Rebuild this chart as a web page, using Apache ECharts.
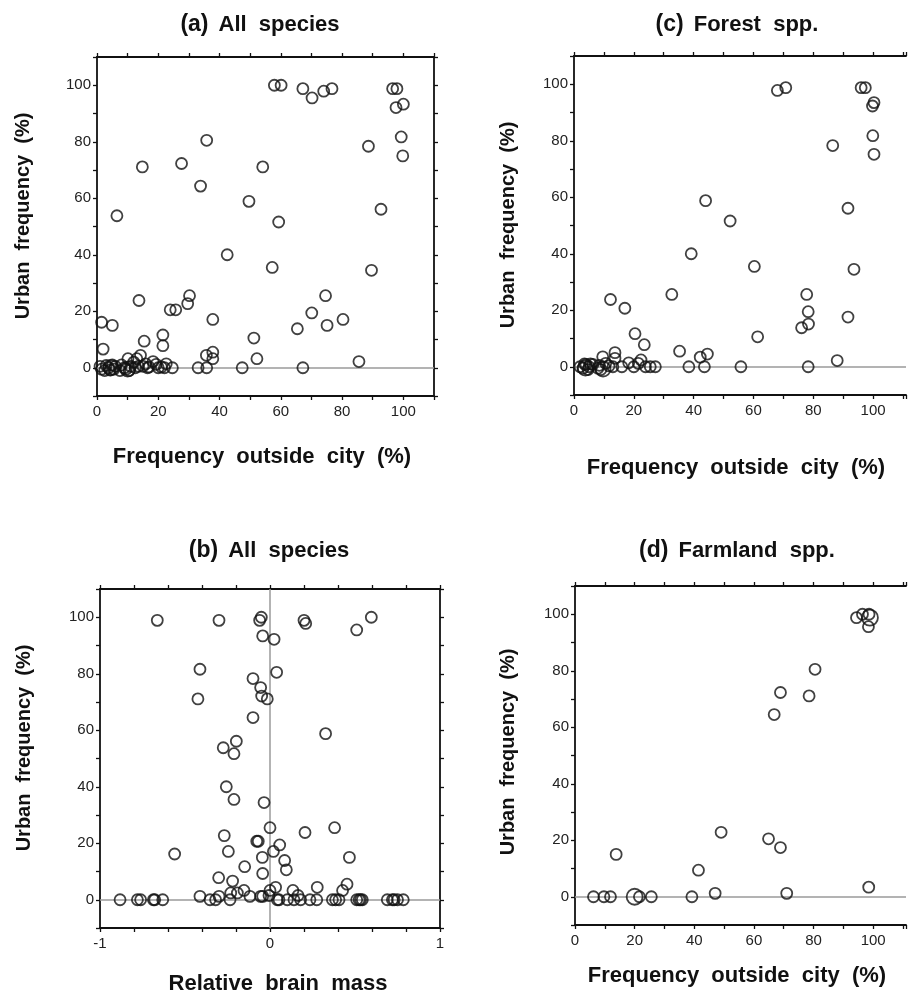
<!DOCTYPE html>
<html>
<head>
<meta charset="utf-8">
<script src="https://cdn.jsdelivr.net/npm/echarts@6/dist/echarts.min.js"></script>
<style>
  html, body { margin: 0; padding: 0; background: #fff; }
  #chart { width: 909px; height: 992px; }
</style>
</head>
<body>
<div id="chart"></div>
<script>
// (a) all species: frequency outside city vs urban frequency
var aPoints = [
  [57.9,100],[60.1,100],[67.2,98.8],[70.2,95.5],[74,97.9],[76.7,98.8],[96.5,98.8],[97.9,98.8],
  [97.6,92.1],[100,93.3],[99.3,81.7],[99.8,75],[88.6,78.4],[92.7,56.1],[89.6,34.5],[35.8,80.5],
  [14.8,71.1],[27.6,72.3],[33.8,64.3],[54.1,71.1],[49.6,58.9],[6.5,53.8],[59.3,51.6],[42.5,40],
  [57.2,35.5],[13.7,23.8],[30.2,25.5],[29.6,22.7],[23.9,20.5],[25.7,20.5],[1.5,16.1],[5,15],
  [37.8,17.1],[15.4,9.4],[21.5,11.6],[21.5,7.8],[2,6.6],[51.2,10.5],[52.2,3.2],[35.7,4.4],
  [37.8,5.5],[37.8,3.2],[74.6,25.5],[70.1,19.4],[65.4,13.8],[75.1,15],[80.3,17.1],[85.5,2.2],
  [67.2,0],[47.4,0],[33,0],[35.8,0],[24.6,0],
  [1,0.5],[1.5,-0.5],[2.5,-1],[3,0.8],[3.8,0],[4.3,-0.8],[5,1],[5.5,-0.5],[6,0.5],[7.5,-1],
  [8,1],[9,0],[9.5,-0.5],[10.1,3.2],[10.5,-1],[11,0.5],[12,2],[12.5,0],[13,3.2],[13.5,0.5],
  [14.2,4.4],[15,0.5],[15.9,1.4],[16.5,0],[17,0.3],[18.3,2.2],[19.3,1.2],[20,0],[21,0.3],
  [22.6,1.4],[22,0]
];
var aBig = [[4.5,0],[10,-0.5]];

// (c) forest species
var cPoints = [
  [68,97.8],[70.8,98.8],[96,98.8],[97.4,98.8],[100.3,93.5],[99.8,92.3],[99.9,81.8],[100.3,75.2],
  [86.5,78.3],[91.6,56.1],[93.6,34.5],[44,58.8],[52.2,51.6],[39.2,40],[60.3,35.5],[32.7,25.6],
  [12.2,23.8],[17,20.7],[20.4,11.7],[23.5,7.8],[35.3,5.5],[42.2,3.4],[44.6,4.5],[38.4,0],
  [43.6,0],[55.8,0],[61.4,10.6],[77.8,25.6],[78.3,19.5],[76.1,13.8],[78.4,15.1],[91.6,17.6],
  [88,2.2],[78.3,0],
  [9.6,3.5],[13.7,5],[13.7,3],[18.3,1.4],[22.4,2.4],[21.5,1.2],[20,0],[16,0],[13,0],[23.9,0],
  [25.5,0],[27.2,0],[2,0],[3,-0.5],[4,0.8],[5,0],[4.7,-1],[6.3,0.8],[8,-0.5],[9,-1],
  [10.6,1.2],[11.7,0.3],[3.5,1],[5.5,1],[8.5,0.5]
];
var cBig = [[3.8,-0.5],[9.7,-0.8]];

// (b) all species: relative brain mass vs urban frequency
var bPoints = [
  [-0.663,98.9],[-0.3,98.9],[-0.051,100],[-0.061,98.9],[-0.043,93.4],[0.024,92.2],[0.2,98.9],
  [0.21,97.8],[0.51,95.5],[0.596,100],[-0.412,81.6],[0.039,80.5],[-0.1,78.3],[-0.055,75.1],
  [-0.049,72.1],[-0.016,71.1],[-0.424,71.1],[-0.1,64.5],[0.327,58.8],[-0.198,56.1],[-0.275,53.8],
  [-0.212,51.7],[-0.257,40],[-0.212,35.5],[-0.035,34.4],[0,25.5],[0.38,25.5],[0.206,23.8],
  [-0.269,22.7],[-0.078,20.7],[-0.069,20.7],[0.057,19.4],[-0.245,17.1],[0.02,17.1],[-0.561,16.2],
  [-0.045,15],[0.467,15],[0.086,13.9],[-0.149,11.7],[0.096,10.6],[-0.043,9.3],[-0.302,7.8],
  [-0.22,6.6],[0.453,5.5],[0.427,3.3],[0.278,4.4],[0.135,3.3],[0.033,4.4],[0,3.3],[-0.153,3.3],
  [-0.192,2.4],[-0.231,2.4],[-0.412,1.2],[-0.3,1.2],[-0.118,1.2],[-0.055,1.2],[-0.043,1.2],
  [-0.006,1.5],[0.165,1.5],
  [-0.882,0],[-0.78,0],[-0.761,0],[-0.686,0],[-0.678,0],[-0.631,0],[-0.353,0],[-0.32,0],
  [-0.235,0],[0.043,0],[0.053,0],[0.102,0],[0.141,0],[0.18,0],[0.235,0],[0.275,0],[0.367,0],
  [0.386,0],[0.406,0],[0.51,0],[0.524,0],[0.533,0],[0.543,0],[0.69,0],[0.72,0],[0.73,0],
  [0.75,0],[0.784,0]
];

// (d) farmland species
var dPoints = [
  [94.4,98.8],[96.4,100],[98.6,100],[98.4,95.6],[80.5,80.5],[68.9,72.3],[78.5,71.1],[66.8,64.5],
  [49,22.8],[64.9,20.5],[68.9,17.4],[13.8,15],[41.4,9.4],[47,1.2],[71,1.2],[98.5,3.4],
  [6.2,0],[9.7,0],[11.9,0],[21.6,0],[25.6,0],[39.2,0]
];
var dBig = [[20,0],[98.9,98.8]];

var freqTicks = [0, 20, 40, 60, 80, 100];
var brainTicks = [-1, 0, 1];
var urbanTicks = [0, 20, 40, 60, 80, 100];

var FONT = '"Liberation Sans", Arial, Helvetica, sans-serif';
var ink = '#111';

var chart = echarts.init(document.getElementById('chart'));

// right-hand panels run off the page edge, like the scan
var grids = [
  { left: 97, top: 57, width: 337, height: 339 },   // a
  { left: 574, top: 56, width: 340, height: 339 },  // c
  { left: 100, top: 589, width: 340, height: 339 }, // b
  { left: 575, top: 586, width: 342, height: 339 }  // d
];

function showIn(list) {
  return function (v) {
    var r = Math.round(v * 1000) / 1000;
    return list.indexOf(r) >= 0 ? String(r) : '';
  };
}

var xAxes = [], yAxes = [];
function addAxes(gi, xmin, xmax, xint, xticks, rightFrame) {
  var line = { show: true, onZero: false, lineStyle: { color: ink, width: 1.8 } };
  var tick = { show: true, inside: false, length: 4, lineStyle: { color: ink, width: 1.3 } };
  xAxes.push({
    type: 'value', gridIndex: gi, position: 'bottom', min: xmin, max: xmax, interval: xint,
    axisLine: line, axisTick: tick, splitLine: { show: false },
    axisLabel: { margin: 8, color: '#222', fontFamily: FONT, fontSize: 15, formatter: showIn(xticks),
      showMinLabel: true, showMaxLabel: true }
  });
  xAxes.push({
    type: 'value', gridIndex: gi, position: 'top', min: xmin, max: xmax, interval: xint,
    axisLine: line, axisTick: tick, splitLine: { show: false }, axisLabel: { show: false }
  });
  yAxes.push({
    type: 'value', gridIndex: gi, position: 'left', min: -10, max: 110, interval: 10,
    axisLine: line, axisTick: tick, splitLine: { show: false },
    axisLabel: { margin: 6, color: '#222', fontFamily: FONT, fontSize: 15, formatter: showIn(urbanTicks) }
  });
  yAxes.push({
    type: 'value', gridIndex: gi, position: 'right', min: -10, max: 110, interval: 10,
    show: rightFrame,
    axisLine: line, axisTick: tick, splitLine: { show: false }, axisLabel: { show: false }
  });
}
addAxes(0, 0, 110, 10, freqTicks, true);
addAxes(1, 0, 111, 10, freqTicks, false);
addAxes(2, -1, 1, 0.2, brainTicks, true);
addAxes(3, 0, 111, 10, freqTicks, false);

var circle = { color: 'rgba(0,0,0,0)', borderColor: ink, borderWidth: 1.8 };
var zeroLine = { color: '#9a9a9a', width: 1.5, type: 'solid' };

function pts(gi, data, size, marks) {
  var s = {
    type: 'scatter', xAxisIndex: gi * 2, yAxisIndex: gi * 2, data: data,
    symbol: 'circle', symbolSize: size, itemStyle: circle, z: 3, silent: true
  };
  if (marks) {
    s.markLine = { silent: true, symbol: 'none', label: { show: false }, lineStyle: zeroLine,
      data: marks, z: 1, animation: false };
  }
  return s;
}

var series = [
  pts(0, aPoints, 11, [{ yAxis: 0 }]), pts(0, aBig, 15),
  pts(1, cPoints, 11, [{ yAxis: 0 }]), pts(1, cBig, 15),
  pts(2, bPoints, 11, [{ yAxis: 0 }, { xAxis: 0 }]),
  pts(3, dPoints, 11, [{ yAxis: 0 }]), pts(3, dBig, 16)
];

function title(x, y, tag, txt) {
  return {
    type: 'text', x: x, y: y, silent: true,
    style: {
      text: '{p|' + tag + '}   {t|' + txt + '}', align: 'center', verticalAlign: 'middle',
      rich: {
        p: { fontFamily: FONT, fontWeight: 'bold', fontSize: 23, fill: ink },
        t: { fontFamily: FONT, fontWeight: 'bold', fontSize: 22, fill: ink }
      }
    }
  };
}
function label(x, y, txt, rot, size) {
  return {
    type: 'text', x: x, y: y, rotation: rot || 0, silent: true,
    style: { text: txt, align: 'center', verticalAlign: 'middle',
      fontFamily: FONT, fontWeight: 'bold', fontSize: size || 22, fill: ink }
  };
}

var option = {
  animation: false,
  backgroundColor: '#fff',
  grid: grids,
  xAxis: xAxes,
  yAxis: yAxes,
  series: series,
  graphic: [
    title(260, 25, '(a)', 'All  species'),
    title(737, 25, '(c)', 'Forest  spp.'),
    title(269, 551, '(b)', 'All  species'),
    title(737, 551, '(d)', 'Farmland  spp.'),
    label(262, 457, 'Frequency  outside  city  (%)'),
    label(736, 468, 'Frequency  outside  city  (%)'),
    label(278, 984, 'Relative  brain  mass'),
    label(737, 976, 'Frequency  outside  city  (%)'),
    label(23, 216, 'Urban  frequency  (%)', Math.PI / 2, 20),
    label(508, 225, 'Urban  frequency  (%)', Math.PI / 2, 20),
    label(24, 748, 'Urban  frequency  (%)', Math.PI / 2, 20),
    label(508, 752, 'Urban  frequency  (%)', Math.PI / 2, 20)
  ]
};
chart.setOption(option);
</script>
</body>
</html>
